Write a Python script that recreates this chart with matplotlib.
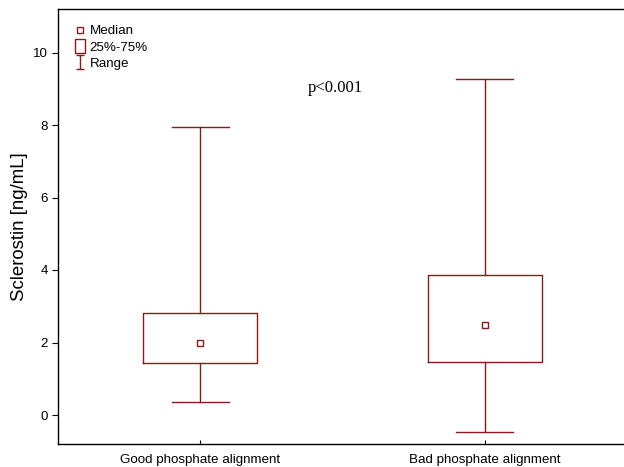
import numpy as np
import matplotlib
matplotlib.use("Agg")
from matplotlib import pyplot as plt
from matplotlib.lines import Line2D
from matplotlib.path import Path

plt.rcParams['font.family'] = ['Liberation Sans', 'DejaVu Sans']

# data
groups = ["Good phosphate alignment", "Bad phosphate alignment"]
mins = [0.35, -0.46]
q1s = [1.43, 1.46]
medians = [2.00, 2.48]
q3s = [2.81, 3.87]
maxs = [7.95, 9.26]
yticks = [0, 2, 4, 6, 8, 10]

col = "#8b1a1a"

fig = plt.figure(figsize=(6.24, 4.67), dpi=100)
# right edge of the frame lies just past the picture
ax = fig.add_axes([58/624, (467-444)/467, 569/624, 435/467])

stats = []
for i in range(len(groups)):
    stats.append(dict(label=groups[i], whislo=mins[i], q1=q1s[i], med=medians[i],
                      q3=q3s[i], whishi=maxs[i], mean=medians[i]))

pos = np.arange(1, len(groups)+1)
ax.bxp(stats, positions=pos, widths=0.4, showmeans=True, showfliers=False,
       boxprops=dict(color=col, linewidth=1.0),
       whiskerprops=dict(color=col, linewidth=1.0),
       capprops=dict(color=col, linewidth=1.0),
       medianprops=dict(linewidth=0),
       meanprops=dict(marker="s", markersize=5, markerfacecolor="white",
                      markeredgecolor=col, markeredgewidth=1.0),
       capwidths=0.2)

ax.set_xlim(0.5, 2.5)
ax.set_ylim(-0.8, 11.2)
ax.set_yticks(yticks)
ax.set_xticks(pos)
ax.set_xticklabels(groups, fontsize=9.6)
ax.tick_params(axis="y", direction="out", length=4, labelsize=9.6)
ax.tick_params(axis="x", direction="in", length=3, pad=7)
ax.set_ylabel("Sclerostin [ng/mL]", fontsize=13.4, va="center")
ax.yaxis.set_label_coords(-0.067, 0.5)
for s in ax.spines.values():
    s.set_linewidth(1.0)

ax.text(1.475, 8.9, "p<0.001", family="Liberation Serif", fontsize=12, ha="center")

# legend icons
box_marker = Path([(-0.75, -1), (0.75, -1), (0.75, 1), (-0.75, 1), (-0.75, -1)],
                  [Path.MOVETO, Path.LINETO, Path.LINETO, Path.LINETO, Path.CLOSEPOLY])
range_marker = Path([(-0.6, 1), (0.6, 1), (0, 1), (0, -1), (-0.6, -1), (0.6, -1)],
                    [Path.MOVETO, Path.LINETO, Path.MOVETO, Path.LINETO, Path.MOVETO, Path.LINETO])
handles = [
    Line2D([], [], linestyle="none", marker="s", markersize=5, markerfacecolor="white",
           markeredgecolor=col, markeredgewidth=1.0),
    Line2D([], [], linestyle="none", marker=box_marker, markersize=9.5, markerfacecolor="white",
           markeredgecolor=col, markeredgewidth=1.0),
    Line2D([], [], linestyle="none", marker=range_marker, markersize=10,
           markeredgecolor=col, markeredgewidth=1.0),
]
ax.legend(handles, ["Median", "25%-75%", "Range"], loc="upper left", frameon=False,
          fontsize=9.6, handlelength=0.8, handletextpad=0.3, labelspacing=0.3,
          borderaxespad=0.3, bbox_to_anchor=(0.013, 0.985))

fig.savefig("out.png", dpi=100)
